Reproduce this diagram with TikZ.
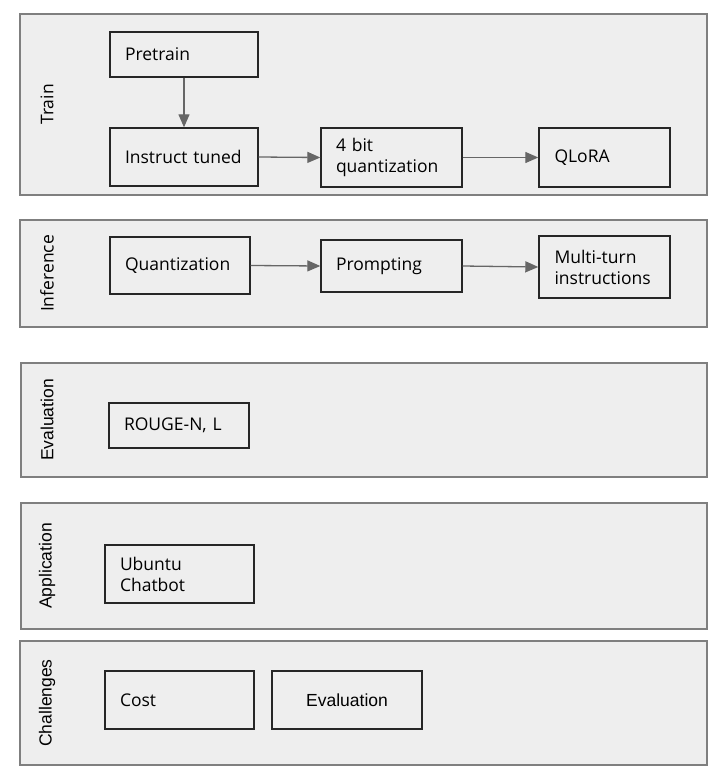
\documentclass[tikz,border=0pt]{standalone}
\usepackage{fontspec}
\setmainfont{Open Sans}
\newfontfamily\arialfont{Liberation Sans}
\usetikzlibrary{arrows.meta}
\definecolor{panelfill}{HTML}{EEEEEE}
\definecolor{panelline}{HTML}{7F7F7F}
\definecolor{boxline}{HTML}{262626}
\definecolor{arrowcol}{HTML}{666666}
\begin{document}
\begin{tikzpicture}[x=1pt,y=-1pt,
  panel/.style={draw=panelline, fill=panelfill, line width=1.3pt, inner sep=0pt},
  stagebox/.style={draw=boxline, fill=panelfill, line width=1.4pt, inner xsep=15pt, inner ysep=0pt,
    align=left, font=\fontsize{17.5}{21}\selectfont},
  sidelabel/.style={rotate=90, inner sep=0pt, font=\fontsize{17.5}{21}\selectfont},
  flow/.style={draw=arrowcol, line width=1.3pt, -{Triangle[length=13pt,width=11pt]}}]
\useasboundingbox (0,0) rectangle (719,781);
\fill[white] (0,0) rectangle (719,781);

% panels
\node[panel, minimum width=687pt, minimum height=181pt] (ptrain) at (363.5,104.5) {};
\node[panel, minimum width=687pt, minimum height=107pt] (pinf) at (363.5,273.5) {};
\node[panel, minimum width=686pt, minimum height=114pt] (peval) at (364,420) {};
\node[panel, minimum width=686pt, minimum height=126pt] (papp) at (364,566) {};
\node[panel, minimum width=687pt, minimum height=124pt] (pchal) at (363.5,703) {};

% side labels
\node[sidelabel] (ltrain) at (47,104.5) {Train};
\node[sidelabel] (linf) at (47,273.5) {Inference};
\node[sidelabel, font=\arialfont\fontsize{17.5}{21}\selectfont] (leval) at (47,420) {Evaluation};
\node[sidelabel, font=\arialfont\fontsize{17.5}{21}\selectfont] (lapp) at (47,566) {Application};
\node[sidelabel, font=\arialfont\fontsize{17.5}{21}\selectfont] (lchal) at (47,703) {Challenges};

% train
\node[stagebox, text width=118pt, minimum height=45pt] (pre) at (184,54.5) {Pretrain};
\node[stagebox, text width=118pt, minimum height=58pt] (inst) at (184,157) {Instruct tuned};
\node[stagebox, text width=111pt, minimum height=59pt] (fourbit) at (391.5,157.5) {4 bit\\quantization};
\node[stagebox, text width=100pt, inner xsep=15.5pt, minimum height=59pt] (qlora) at (604.5,157.5) {QLoRA};

% inference
\node[stagebox, text width=110pt, minimum height=57pt] (quant) at (180,265.5) {Quantization};
\node[stagebox, text width=111pt, minimum height=52pt] (prompt) at (391.5,266) {Prompting};
\node[stagebox, text width=100pt, inner xsep=15.5pt, minimum height=62pt] (multi) at (604.5,267) {Multi-turn\\instructions};

% evaluation
\node[stagebox, text width=110pt, minimum height=45pt] (rouge) at (179,425.5) {ROUGE-N, L};

% application
\node[stagebox, text width=119pt, minimum height=58pt] (ubuntu) at (179.5,574) {Ubuntu\\Chatbot};

% challenges
\node[stagebox, text width=119pt, minimum height=58pt] (cost) at (179.5,700) {Cost};
\node[stagebox, text width=120pt, minimum height=58pt, align=center,
  font=\arialfont\fontsize{17.5}{21}\selectfont] (evalc) at (347,700) {Evaluation};

% connectors
\draw[flow] (pre.south) -- (inst.north);
\draw[flow] (inst.east) -- (fourbit.west);
\draw[flow] (fourbit.east) -- (qlora.west);
\draw[flow] (quant.east) -- (prompt.west);
\draw[flow] (prompt.east) -- (multi.west);
\end{tikzpicture}
\end{document}
